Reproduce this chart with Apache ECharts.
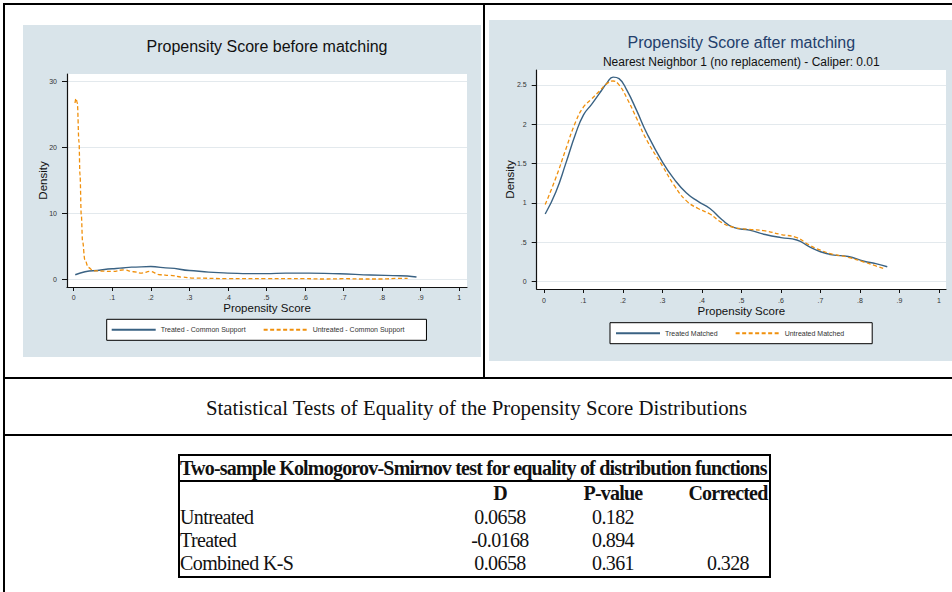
<!DOCTYPE html>
<html>
<head>
<meta charset="utf-8">
<script src="https://cdn.jsdelivr.net/npm/echarts@6.0.0/dist/echarts.min.js"></script>
<style>
  html, body { margin: 0; padding: 0; background: #fff; }
  body { width: 952px; height: 592px; overflow: hidden; position: relative; }
  .rule { position: absolute; background: #000; }
  .panel { position: absolute; }
  #heading {
    position: absolute; left: 3px; width: 947px; top: 396px; height: 24px; line-height: 24px;
    text-align: center; font-family: "Liberation Serif", "Times New Roman", serif; font-size: 20.8px; color: #111;
  }
  #ks {
    position: absolute; left: 178px; top: 454px; width: 589px; height: 120px;
    border: 2px solid #000; font-family: "Liberation Serif", "Times New Roman", serif; color: #111;
  }
  #ks .cell { position: absolute; height: 22px; line-height: 22px; white-space: nowrap; font-size: 20px; letter-spacing: -0.6px; }
  #ks .c { transform: translateX(-50%); }
  #ks .b { font-weight: bold; letter-spacing: -0.8px; }
  #ks .sep { position: absolute; left: 0; width: 589px; top: 24px; height: 1.5px; background: #000; }
</style>
</head>
<body>
<!-- page frame -->
<div class="rule" style="left:3px;top:3px;width:952px;height:2px"></div>
<div class="rule" style="left:3px;top:3px;width:2px;height:592px"></div>
<div class="rule" style="left:483px;top:3px;width:2px;height:376px"></div>
<div class="rule" style="left:3px;top:377px;width:952px;height:2px"></div>
<div class="rule" style="left:3px;top:434px;width:952px;height:2px"></div>

<div id="before" class="panel" style="left:23px;top:25px;width:458px;height:332px"></div>
<div id="after" class="panel" style="left:489px;top:20px;width:470px;height:341px"></div>

<div id="heading"></div>
<div id="ks"></div>

<script>
// Kernel density of the propensity score, before matching (common support)
const beforeTreatedX = [0.004, 0.05, 0.1, 0.12, 0.15, 0.2, 0.25, 0.3, 0.35, 0.4, 0.45, 0.5, 0.55, 0.61, 0.69, 0.77, 0.846, 0.889];
const beforeTreatedY = [0.65, 1.25, 1.55, 1.65, 1.8, 1.9, 1.65, 1.3, 1.05, 0.9, 0.82, 0.82, 0.9, 0.9, 0.8, 0.6, 0.5, 0.3];
const beforeUntreatedX = [0.0034, 0.006, 0.0093, 0.0137, 0.0163, 0.0197, 0.023, 0.029, 0.038, 0.051, 0.1, 0.13, 0.155, 0.176, 0.198, 0.224, 0.25, 0.28, 0.31, 0.4, 0.5, 0.6, 0.65, 0.7, 0.75, 0.8, 0.84, 0.866];
const beforeUntreatedY = [26.7, 27.4, 26.7, 20.8, 15.8, 9.7, 5.7, 2.9, 1.75, 1.25, 1.15, 1.4, 1.1, 0.9, 1.15, 0.65, 0.55, 0.3, 0.15, 0.05, 0.05, 0.05, 0.0, 0.05, 0.0, 0.0, 0.1, 0.1];

// Kernel density after nearest-neighbour matching
const afterTreatedX = [0.003, 0.03, 0.055, 0.08, 0.1, 0.12, 0.14, 0.16, 0.175, 0.19, 0.21, 0.235, 0.26, 0.3, 0.33, 0.36, 0.39, 0.42, 0.45, 0.48, 0.52, 0.56, 0.6, 0.64, 0.67, 0.7, 0.73, 0.77, 0.81, 0.84, 0.869];
const afterTreatedY = [0.86, 1.14, 1.5, 1.88, 2.12, 2.25, 2.39, 2.53, 2.6, 2.58, 2.43, 2.17, 1.89, 1.52, 1.3, 1.13, 1.02, 0.93, 0.79, 0.69, 0.655, 0.6, 0.56, 0.53, 0.45, 0.38, 0.34, 0.32, 0.26, 0.23, 0.19];
const afterUntreatedX = [0.003, 0.03, 0.055, 0.08, 0.1, 0.12, 0.14, 0.16, 0.175, 0.19, 0.21, 0.235, 0.26, 0.3, 0.33, 0.36, 0.39, 0.42, 0.45, 0.48, 0.52, 0.56, 0.6, 0.64, 0.67, 0.7, 0.73, 0.77, 0.81, 0.84, 0.859];
const afterUntreatedY = [0.98, 1.32, 1.68, 2.03, 2.22, 2.32, 2.42, 2.52, 2.55, 2.5, 2.33, 2.07, 1.8, 1.47, 1.22, 1.03, 0.93, 0.86, 0.75, 0.69, 0.665, 0.645, 0.6, 0.56, 0.47, 0.4, 0.35, 0.31, 0.25, 0.2, 0.17];

// Axis ticks and their labels
const xTicks = [0, 0.1, 0.2, 0.3, 0.4, 0.5, 0.6, 0.7, 0.8, 0.9, 1];
const xTickLabels = ['0', '.1', '.2', '.3', '.4', '.5', '.6', '.7', '.8', '.9', '1'];
const beforeYTicks = [0, 10, 20, 30];
const beforeYTickLabels = ['0', '10', '20', '30'];
const afterYTicks = [0, 0.5, 1, 1.5, 2, 2.5];
const afterYTickLabels = ['0', '.5', '1', '1.5', '2', '2.5'];

// Kolmogorov-Smirnov test table
const ksHeading = 'Statistical Tests of Equality of the Propensity Score Distributions';
const ksTitle = 'Two-sample Kolmogorov-Smirnov test for equality of distribution functions';
const ksColumns = ['D', 'P-value', 'Corrected'];
const ksRows = ['Untreated', 'Treated', 'Combined K-S'];
const ksD = ['0.0658', '-0.0168', '0.0658'];
const ksP = ['0.182', '0.894', '0.361'];
const ksCorrected = ['', '', '0.328'];

const SANS = '"Liberation Sans", Arial, Helvetica, sans-serif';
const NAVY = '#3a6283';
const ORANGE = '#f0900c';

function pairs(xs, ys) { return xs.map((x, i) => [x, ys[i]]); }
function labelFor(ticks, labels) {
  return v => {
    const i = ticks.findIndex(t => Math.abs(t - v) < 1e-9);
    return i >= 0 ? labels[i] : '';
  };
}

function densityChart(el, cfg) {
  const chart = echarts.init(el, null, { renderer: 'svg' });
  const axisLine = { onZero: false, lineStyle: { color: '#111', width: 1.2 } };
  const lineOpts = cfg.monotone ? { smooth: 0.4, smoothMonotone: 'x' } : { smooth: 0.5 };
  chart.setOption({
    animation: false,
    backgroundColor: '#d9e4ea',
    title: cfg.title,
    grid: Object.assign({ show: true, backgroundColor: '#fff', borderWidth: 0 }, cfg.grid),
    legend: Object.assign({
      orient: 'horizontal',
      backgroundColor: '#fff', borderColor: '#000', borderWidth: 1, borderRadius: 0,
      itemWidth: 44, itemHeight: 8, itemGap: 17,
      itemStyle: { opacity: 0 },
      textStyle: { fontFamily: SANS, fontSize: 7, color: '#333' }
    }, cfg.legend),
    xAxis: {
      type: 'value', min: cfg.xMin, max: cfg.xMax,
      axisLine: axisLine,
      axisTick: { customValues: xTicks, length: 4, lineStyle: { color: '#111', width: 1 } },
      axisLabel: { customValues: xTicks, formatter: labelFor(xTicks, xTickLabels), margin: cfg.xLabelMargin, lineHeight: 7, fontFamily: SANS, fontSize: 7, color: '#333' },
      splitLine: { show: false },
      name: 'Propensity Score', nameLocation: 'middle', nameGap: cfg.xNameGap, nameMoveOverlap: false,
      nameTextStyle: { fontFamily: SANS, fontSize: 11.5, lineHeight: 12, color: '#111' }
    },
    yAxis: {
      type: 'value', min: cfg.yMin, max: cfg.yMax,
      axisLine: axisLine,
      axisTick: { customValues: cfg.yTicks, length: 5, lineStyle: { color: '#111', width: 1 } },
      axisLabel: { customValues: cfg.yTicks, formatter: labelFor(cfg.yTicks, cfg.yTickLabels), margin: 10, fontFamily: SANS, fontSize: 7, color: '#333' },
      splitLine: { show: true, lineStyle: { color: '#e3e9ed', width: 1 } },
      name: 'Density', nameLocation: 'middle', nameGap: cfg.yNameGap, nameMoveOverlap: false,
      nameTextStyle: { fontFamily: SANS, fontSize: 11.5, color: '#111' }
    },
    series: [
      Object.assign({
        name: cfg.names[0], type: 'line', symbol: 'none',
        data: pairs(cfg.treatedX, cfg.treatedY),
        lineStyle: { color: NAVY, width: 1.4 }, itemStyle: { color: NAVY }
      }, lineOpts),
      Object.assign({
        name: cfg.names[1], type: 'line', symbol: 'none',
        data: pairs(cfg.untreatedX, cfg.untreatedY),
        lineStyle: { color: ORANGE, width: 1.3, type: [4, 2.5] }, itemStyle: { color: ORANGE }
      }, lineOpts)
    ]
  });
}

densityChart(document.getElementById('before'), {
  title: {
    text: 'Propensity Score before matching', left: 239, top: 7.7, textAlign: 'center',
    textStyle: { fontFamily: SANS, fontSize: 16, fontWeight: 'normal', color: '#111', lineHeight: 18 }
  },
  grid: { left: 44, top: 49, width: 400, height: 213 },
  legend: { left: 83.7, top: 294.3, padding: [7, 22, 7, 4] },
  xMin: -0.0174, xMax: 1.02, yMin: -1.21, yMax: 31.1,
  yTicks: beforeYTicks, yTickLabels: beforeYTickLabels,
  xLabelMargin: 7, xNameGap: 14.5, yNameGap: 18, monotone: true,
  names: ['Treated - Common Support', 'Untreated - Common Support'],
  treatedX: beforeTreatedX, treatedY: beforeTreatedY,
  untreatedX: beforeUntreatedX, untreatedY: beforeUntreatedY
});

densityChart(document.getElementById('after'), {
  title: {
    text: 'Propensity Score after matching', left: 247.3, top: 8.7, textAlign: 'center', itemGap: 3,
    textStyle: { fontFamily: SANS, fontSize: 16, fontWeight: 'normal', color: '#24406c', lineHeight: 18 },
    subtext: 'Nearest Neighbor 1 (no replacement) - Caliper: 0.01',
    subtextStyle: { fontFamily: SANS, fontSize: 12, color: '#111', lineHeight: 14 }
  },
  grid: { left: 47.7, top: 50, width: 409.3, height: 219 },
  legend: { left: 121, top: 302.7, padding: [7, 28, 7, 5] },
  xMin: -0.0185, xMax: 1.0177, yMin: -0.093, yMax: 2.69,
  yTicks: afterYTicks, yTickLabels: afterYTickLabels,
  xLabelMargin: 8, xNameGap: 15.5, yNameGap: 21, monotone: false,
  names: ['Treated Matched', 'Untreated Matched'],
  treatedX: afterTreatedX, treatedY: afterTreatedY,
  untreatedX: afterUntreatedX, untreatedY: afterUntreatedY
});

// Test results table
document.getElementById('heading').textContent = ksHeading;
(function buildTable() {
  const box = document.getElementById('ks');
  const colCenters = [320, 433, 548];
  const rowCenters = [61, 84, 107];
  function cell(text, left, center, cls) {
    const d = document.createElement('div');
    d.className = 'cell ' + (cls || '');
    d.textContent = text;
    d.style.left = left + 'px';
    d.style.top = (center - 11) + 'px';
    box.appendChild(d);
  }
  cell(ksTitle, 0, 12, 'b');
  const sep = document.createElement('div');
  sep.className = 'sep';
  box.appendChild(sep);
  ksColumns.forEach((c, j) => cell(c, colCenters[j], 37, 'b c'));
  ksRows.forEach((r, i) => {
    cell(r, 0, rowCenters[i]);
    cell(ksD[i], colCenters[0], rowCenters[i], 'c');
    cell(ksP[i], colCenters[1], rowCenters[i], 'c');
    if (ksCorrected[i]) cell(ksCorrected[i], colCenters[2], rowCenters[i], 'c');
  });
})();
</script>
</body>
</html>
